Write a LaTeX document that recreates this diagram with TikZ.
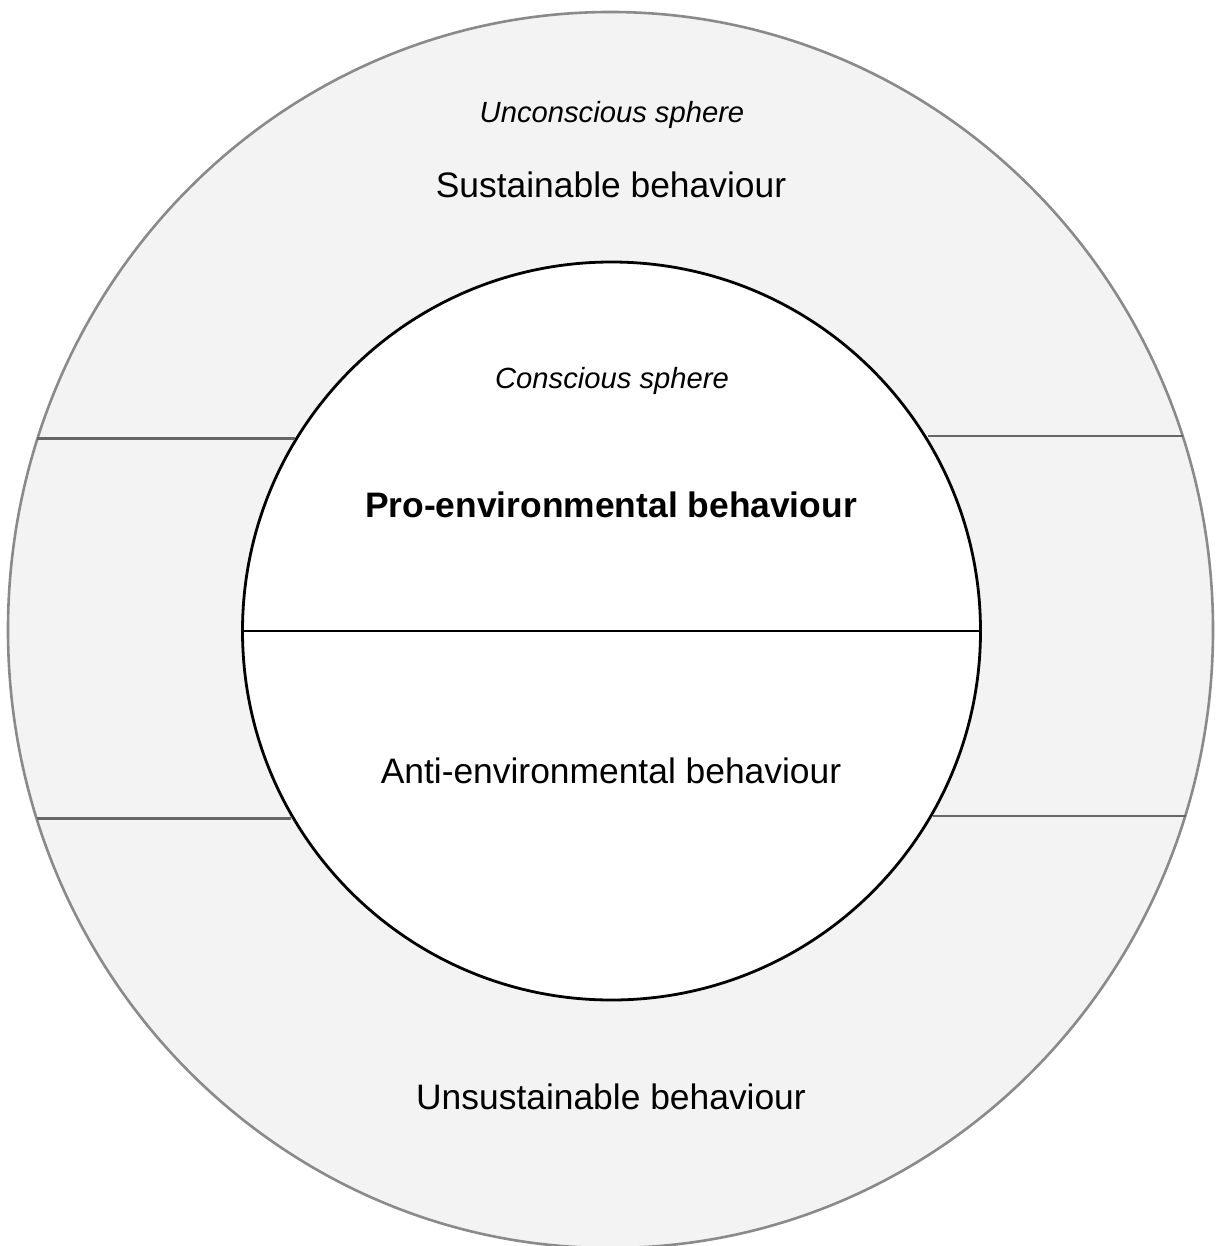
\documentclass[tikz,border=0pt]{standalone}
\usepackage{fontspec}
\setmainfont{Liberation Sans}
\usetikzlibrary{shapes.geometric}
\definecolor{ringfill}{HTML}{F3F3F3}
\definecolor{ringline}{HTML}{8A8A8A}
\definecolor{divline}{HTML}{666666}
\tikzset{
  big/.style={font=\fontsize{35.4}{40}\selectfont, anchor=base, inner sep=0pt},
  small/.style={font=\fontsize{29.2}{34}\selectfont\itshape, anchor=base, inner sep=0pt},
  divider/.style={draw=divline, line width=2.6pt},
}
\begin{document}
\begin{tikzpicture}[x=1pt,y=-1pt]
\useasboundingbox (0,0) rectangle (1215,1246);
\node[ellipse, draw=ringline, fill=ringfill, line width=2.6pt, minimum width=1205pt, minimum height=1236pt, inner sep=0pt] (outer) at (610.5,630) {};
\node[circle, draw=black, fill=white, line width=2.8pt, minimum size=738pt, inner sep=0pt] (inner) at (611.5,631) {};
\coordinate (ul1) at (37,438.5); \coordinate (ul2) at (295,438.5);
\coordinate (ur1) at (928,436); \coordinate (ur2) at (1183,436);
\coordinate (ll1) at (37,818.5); \coordinate (ll2) at (291,818.5);
\coordinate (lr1) at (933,816); \coordinate (lr2) at (1186,816);
\draw[divider] (ul1) -- (ul2);
\draw[divider] (ur1) -- (ur2);
\draw[divider] (ll1) -- (ll2);
\draw[divider] (lr1) -- (lr2);
\draw[black, line width=2.8pt] (inner.west) -- (inner.east);
\node[small] (unc) at (612,122.5) {Unconscious sphere};
\node[big] (sus) at (611,198) {Sustainable behaviour};
\node[small] (con) at (612,388) {Conscious sphere};
\node[big, font=\fontsize{35.4}{40}\selectfont\bfseries] (pro) at (611,517) {Pro-environmental behaviour};
\node[big] (anti) at (611,783) {Anti-environmental behaviour};
\node[big] (uns) at (611,1109) {Unsustainable behaviour};
\end{tikzpicture}
\end{document}
